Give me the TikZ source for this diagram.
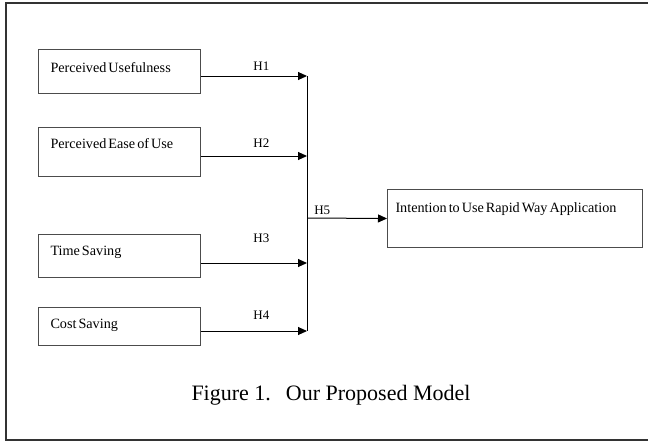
\documentclass[tikz,border=0pt]{standalone}
\usepackage{fontspec}
\setmainfont{Liberation Serif}
\usepackage{tikz}
\usetikzlibrary{arrows.meta}
\tikzset{
  mdlnode/.style = {draw=black!70, rectangle, anchor=north west, align=left,
    inner xsep=12pt, inner ysep=0pt, text height=21pt,
    font=\fontsize{14.2}{16}\selectfont,
    execute at begin node={\spaceskip=2pt plus 1pt\relax}},% common box
  mdl_in/.style = {mdlnode, text width=138pt},% factor box
  mdl_out/.style = {mdlnode, inner xsep=8pt, text width=239pt},% outcome box
  hyp/.style = {font=\fontsize{13}{15}\selectfont, above, inner sep=3pt}% hypothesis label
}
\begin{document}
\begin{tikzpicture}[x=1pt,y=-1pt,>={Triangle[length=9pt,width=8pt]},line width=1pt]
    \useasboundingbox (0,0) rectangle (648,442);
    \clip (0,0) rectangle (648,442);
    \draw[line width=1.5pt, black!80] (6,3) rectangle (660,440);
    % factors
    \node [mdl_in, text height=23pt, text depth=21pt] (pu) at (38,49) {Perceived Usefulness};
    \node [mdl_in, text depth=28pt] (peou) at (38,127) {Perceived Ease of Use};
    \node [mdl_in, text depth=22pt] (ts) at (38,234) {Time Saving};
    \node [mdl_in, text depth=17pt] (cs) at (38,307) {Cost Saving};
    \node [mdl_out, text height=23pt, text depth=35pt] (iu) at (387,189) {Intention to Use Rapid Way Application};
    % joining line
    \coordinate (j1) at (307,76);
    \coordinate (j2) at (307,156);
    \coordinate (j3) at (307,263);
    \coordinate (j4) at (307,331);
    \coordinate (j5) at (307,218);
    \draw (j1) -- (j4);
    \draw[->] (pu.east |- j1) -- node[hyp, pos=0.57, yshift=2pt] {H1} (j1);
    \draw[->] (peou.east |- j2) -- node[hyp, pos=0.57, yshift=5pt] {H2} (j2);
    \draw[->] (ts.east |- j3) -- node[hyp, pos=0.57, yshift=17pt] {H3} (j3);
    \draw[->] (cs.east |- j4) -- node[hyp, pos=0.57, yshift=8pt] {H4} (j4);
    \draw[->] (j5) -- node[hyp, pos=0.19] {H5} (iu.west);
    \node [font=\fontsize{22}{26}\selectfont] (cap) at (331,395) {Figure 1.\hspace{15pt}Our Proposed Model};
\end{tikzpicture}
\end{document}
